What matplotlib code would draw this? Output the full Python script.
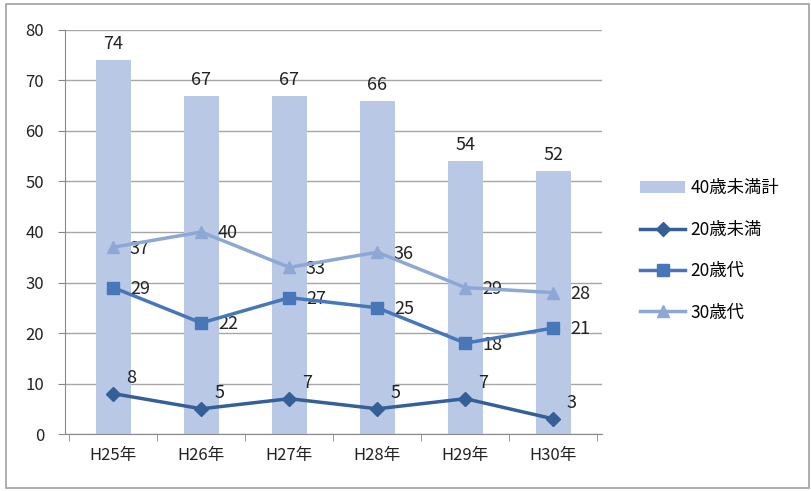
import matplotlib
matplotlib.use("Agg")
import matplotlib.pyplot as plt
import numpy as np
from matplotlib.patches import Rectangle

plt.rcParams['font.family'] = ['Noto Sans CJK JP', 'DejaVu Sans']

categories = ["H25年", "H26年", "H27年", "H28年", "H29年", "H30年"]
total_under40 = [74, 67, 67, 66, 54, 52]
under20 = [8, 5, 7, 5, 7, 3]
twenties = [29, 22, 27, 25, 18, 21]
thirties = [37, 40, 33, 36, 29, 28]

bar_color = "#b9c8e5"
c_under20 = "#355f97"
c_20s = "#4777b8"
c_30s = "#8ea8d6"
text_color = "#222222"

fig = plt.figure(figsize=(8.11, 4.91), dpi=100)
fig.patches.append(Rectangle((0.007, 0.006), 0.99, 0.985, transform=fig.transFigure,
                             fill=False, edgecolor="#a0a0a0", linewidth=1.2))
ax = fig.add_axes([0.080, 0.116, 0.662, 0.823])

x = np.arange(len(categories))
bars = ax.bar(x, total_under40, width=0.4, color=bar_color, label="40歳未満計", zorder=2)
l1, = ax.plot(x, under20, color=c_under20, marker="D", markersize=7, linewidth=2.5, label="20歳未満", zorder=4)
l2, = ax.plot(x, twenties, color=c_20s, marker="s", markersize=9, linewidth=2.5, label="20歳代", zorder=4)
l3, = ax.plot(x, thirties, color=c_30s, marker="^", markersize=9, linewidth=2.5, label="30歳代", zorder=4)

fs = 13
for xi, v in zip(x, total_under40):
    ax.annotate(str(v), (xi, v), xytext=(0, 5), textcoords="offset points",
                ha="center", va="bottom", fontsize=fs, color=text_color)
for xi, v in zip(x, under20):
    ax.annotate(str(v), (xi, v), xytext=(13, 5), textcoords="offset points",
                ha="center", va="bottom", fontsize=fs, color=text_color)
for series in (twenties, thirties):
    for xi, v in zip(x, series):
        ax.annotate(str(v), (xi, v), xytext=(12, -1), textcoords="offset points",
                    ha="left", va="center", fontsize=fs, color=text_color)

ax.set_xlim(-0.55, 5.55)
ax.set_ylim(0, 80)
ax.set_yticks(range(0, 81, 10))
ax.set_xticks(x)
ax.set_xticklabels(categories)
ax.set_xticks(np.arange(-0.5, 6.0, 1.0), minor=True)
ax.tick_params(axis="x", which="major", length=0, pad=9, labelsize=12, labelcolor=text_color)
ax.tick_params(axis="x", which="minor", length=5, color="#888888")
ax.tick_params(axis="y", length=5, color="#888888", labelsize=12, labelcolor=text_color, pad=10)
ax.grid(axis="y", color="#a6a6a6", linewidth=1, zorder=0)
ax.set_axisbelow(True)
for s in ("top", "right"):
    ax.spines[s].set_visible(False)
ax.spines["left"].set_color("#888888")
ax.spines["bottom"].set_color("#888888")

fig.legend(handles=[bars, l1, l2, l3], loc="center left", bbox_to_anchor=(0.77, 0.49), frameon=False,
           fontsize=12.5, handlelength=2.6, labelspacing=1.35, handletextpad=0.3)

fig.savefig("out.png", dpi=100)
